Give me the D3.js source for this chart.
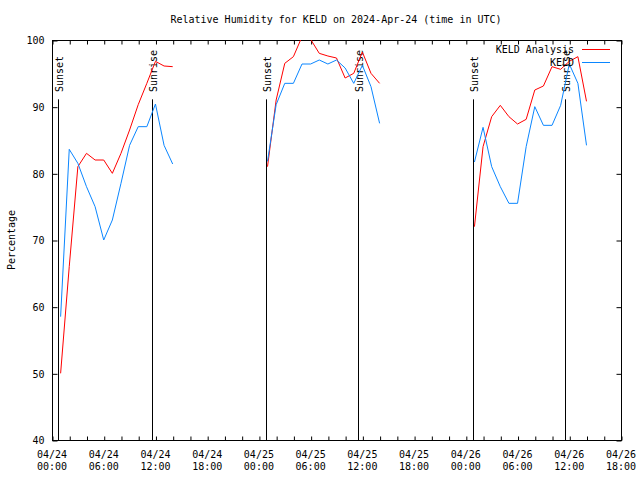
<!DOCTYPE html>
<html>
<head>
<meta charset="utf-8">
<script src="https://cdn.jsdelivr.net/npm/d3@7"></script>
<style>
  html, body { margin: 0; padding: 0; background: #fff; }
  svg { display: block; }
  text { font-family: "DejaVu Sans Mono", monospace; fill: #000; }
</style>
</head>
<body>
<svg id="chart" width="640" height="480"></svg>
<script>
// ---- data (hours after 2024-04-24 00:00 UTC; null = gap) ----
const hours = [1,2,3,4,5,6,7,8,9,10,11,12,13,14, null,
               25,26,27,28,29,30,31,32,33,34,35,36,37,38, null,
               49,50,51,52,53,54,55,56,57,58,59,60,61,62];
const analysisValues = [50,66,81,83,82,82,80,83,86.5,90.3,93.5,96.8,96.1,96, null,
               81,91,96.5,97.5,100.5,100.1,98,97.6,97.3,94.3,95,98.2,95,93.5, null,
               72,84,88.5,90.2,88.5,87.4,88.1,92.5,93.1,96,95.6,96.8,97.5,90.8];
const stationValues = [58.5,83.6,81.5,78,75,70,73,78.5,84.2,87,87,90.4,84.2,81.4, null,
               81.8,90.3,93.5,93.5,96.4,96.4,97,96.4,97,95.8,93.5,96.2,93,87.5, null,
               81.7,86.9,81,78,75.5,75.5,84,90,87.2,87.2,90.2,96.4,93.5,84.2];
const sunHours = [0.75, 11.58, 24.77, 35.55, 48.78, 59.53];
const sunLabels = ["Sunset","Sunrise","Sunset","Sunrise","Sunset","Sunrise"];
const seriesNames = ["KELD Analysis", "KELD"];
const seriesColors = ["#ff0000", "#0a86ff"];
const yTicks = [40,50,60,70,80,90,100];
const titleText = "Relative Humidity for KELD on 2024-Apr-24 (time in UTC)";
const yLabel = "Percentage";

// ---- layout ----
const start = Date.UTC(2024, 3, 24, 0, 0);
const H = 3600 * 1000;
const toDate = h => new Date(start + h * H);
const L = 52, R = 621, T = 40, B = 440;
const FS = "10px";

const svg = d3.select("#chart");
const x = d3.scaleUtc().domain([toDate(0), toDate(66)]).range([L, R]);
const y = d3.scaleLinear().domain([40, 100]).range([B, T]);

// clip
svg.append("defs").append("clipPath").attr("id", "clip")
  .append("rect").attr("x", L).attr("y", T).attr("width", R - L + 1).attr("height", B - T);

// title
svg.append("text").attr("x", 336).attr("y", 23).attr("text-anchor", "middle")
  .style("font-size", FS).text(titleText);

// y label
svg.append("text").attr("transform", "translate(15,240) rotate(-90)")
  .attr("text-anchor", "middle").style("font-size", FS).text(yLabel);

// frame
svg.append("rect").attr("x", L + 0.5).attr("y", T + 0.5).attr("width", R - L).attr("height", B - T)
  .attr("fill", "none").attr("stroke", "#000").attr("stroke-width", 1);

// y ticks (left & right, inward)
const yAxisL = d3.axisLeft(y).tickValues(yTicks).tickSize(-5).tickPadding(8);
const gyl = svg.append("g").attr("transform", `translate(${L + 0.5},0.5)`).call(yAxisL);
gyl.select(".domain").remove();
gyl.selectAll("text").style("font-size", FS).style("font-family", "DejaVu Sans Mono");
const yAxisR = d3.axisRight(y).tickValues(yTicks).tickSize(-5).tickFormat("");
const gyr = svg.append("g").attr("transform", `translate(${R + 0.5},0.5)`).call(yAxisR);
gyr.select(".domain").remove();

// x ticks every 2 hours, inward at bottom and top
const tickDates = d3.range(0, 67, 2).map(toDate);
const xAxisB = d3.axisBottom(x).tickValues(tickDates).tickSize(-4).tickFormat("");
const gxb = svg.append("g").attr("transform", `translate(0.5,${B + 0.5})`).call(xAxisB);
gxb.select(".domain").remove();
const xAxisT = d3.axisTop(x).tickValues(tickDates).tickSize(-4).tickFormat("");
const gxt = svg.append("g").attr("transform", `translate(0.5,${T + 0.5})`).call(xAxisT);
gxt.select(".domain").remove();

// x labels every 6 hours, two lines
const labelDates = d3.range(0, 67, 6).map(toDate);
const fmtD = d3.utcFormat("%m/%d"), fmtT = d3.utcFormat("%H:%M");
const xl = svg.append("g").selectAll("text").data(labelDates).join("text")
  .attr("x", d => x(d)).attr("y", 458).attr("text-anchor", "middle").style("font-size", FS);
xl.append("tspan").attr("x", d => x(d)).text(d => fmtD(d));
xl.append("tspan").attr("x", d => x(d)).attr("dy", 12).text(d => fmtT(d));

// sunrise / sunset lines
const sun = svg.append("g");
sun.selectAll("line").data(sunHours).join("line")
  .attr("x1", d => Math.round(x(toDate(d))) + 0.5).attr("x2", d => Math.round(x(toDate(d))) + 0.5)
  .attr("y1", y(40)).attr("y2", y(91.1))
  .attr("stroke", "#000").attr("stroke-width", 1);
sun.selectAll("text").data(sunHours).join("text")
  .attr("transform", d => `translate(${Math.round(x(toDate(d))) + 5},92) rotate(-90)`)
  .style("font-size", FS)
  .text((d, i) => sunLabels[i]);

// series
const pts = vals => hours.map((h, i) => ({ h, v: vals[i] }));
const line = d3.line()
  .defined(d => d.h !== null && d.v !== null)
  .x(d => x(toDate(d.h))).y(d => y(d.v));
const plot = svg.append("g").attr("clip-path", "url(#clip)");
[analysisValues, stationValues].forEach((vals, i) => {
  plot.append("path").datum(pts(vals))
    .attr("fill", "none").attr("stroke", seriesColors[i]).attr("stroke-width", 1)
    .attr("d", line);
});

// legend
const legY = [49, 62];
seriesNames.forEach((name, i) => {
  svg.append("text").attr("x", 574).attr("y", legY[i] + 4).attr("text-anchor", "end")
    .style("font-size", FS).text(name);
  svg.append("line").attr("x1", 582).attr("x2", 610).attr("y1", legY[i] + 0.5).attr("y2", legY[i] + 0.5)
    .attr("stroke", seriesColors[i]).attr("stroke-width", 1);
});
</script>
</body>
</html>
